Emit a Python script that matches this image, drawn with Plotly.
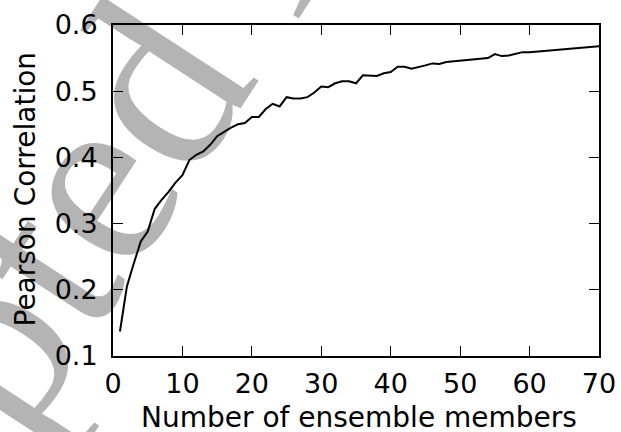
import math
import plotly.graph_objects as go

# ---- data ----
members = list(range(1, 71))
pearson = [0.137, 0.205, 0.240, 0.273, 0.288, 0.322, 0.336, 0.348, 0.362, 0.373,
           0.396, 0.404, 0.409, 0.419, 0.432, 0.439, 0.445, 0.450, 0.452, 0.461,
           0.461, 0.473, 0.481, 0.477, 0.491, 0.489, 0.489, 0.491, 0.498, 0.507,
           0.506, 0.512, 0.515, 0.515, 0.512, 0.524, 0.524, 0.523, 0.527, 0.529,
           0.537, 0.537, 0.534, 0.536, 0.539, 0.542, 0.541, 0.544, 0.545, 0.547,
           0.548, 0.549, 0.549, 0.550, 0.556, 0.553, 0.554, 0.557, 0.559, 0.559,
           0.560, 0.560, 0.562, 0.563, 0.563, 0.564, 0.565, 0.566, 0.567, 0.568]
x_ticks = [0, 10, 20, 30, 40, 50, 60, 70]
y_ticks = [0.1, 0.2, 0.3, 0.4, 0.5, 0.6]
y_tick_text = ["0.1", "0.2", "0.3", "0.4", "0.5", "0.6"]
x_title = "Number of ensemble members"
y_title = "Pearson Correlation"
watermark = "Accepted Manuscript"

W, H = 621, 432
ML, MR, MT, MB = 113, 22, 25, 76
PW, PH = W - ML - MR, H - MT - MB

def px_to_paper(px, py):
    return (px - ML) / PW, (H - MB - py) / PH

FONT = "DejaVu Sans"

fig = go.Figure()
fig.add_trace(go.Scatter(x=members, y=pearson, mode="lines",
                         line=dict(color="black", width=2), showlegend=False))

axis_common = dict(showline=True, linecolor="black", linewidth=2, mirror="allticks",
                   ticks="inside", ticklen=10, tickwidth=1.2, tickcolor="black",
                   showgrid=False, zeroline=False, automargin=False,
                   tickfont=dict(family=FONT, size=27, color="black"))

fig.update_xaxes(range=[0, 70], tickvals=x_ticks, ticklabelstandoff=3, **axis_common)
fig.update_yaxes(range=[0.1, 0.6], tickvals=y_ticks, ticktext=y_tick_text,
                 ticklabelstandoff=8, **axis_common)

# axis titles
tx, ty = px_to_paper(359, 436)
fig.add_annotation(text=x_title, x=tx, y=ty, xref="paper", yref="paper",
                   showarrow=False, xanchor="center", yanchor="bottom",
                   font=dict(family=FONT, size=28, color="black"))
tx, ty = px_to_paper(24.5, 189)
fig.add_annotation(text=y_title, x=tx, y=ty, xref="paper", yref="paper",
                   showarrow=False, xanchor="center", yanchor="middle", textangle=-90,
                   font=dict(family=FONT, size=28, color="black"))

# grey watermark behind the plot (label of an invisible line, below the data)
ang = math.radians(-57)
bx, by = math.cos(ang), math.sin(ang)
cx, cy = 236.0, -94.0
L = 100
x0, y0 = px_to_paper(cx - L * bx, cy - L * by)
x1, y1 = px_to_paper(cx + L * bx, cy + L * by)
fig.add_shape(type="line", xref="paper", yref="paper", x0=x0, y0=y0, x1=x1, y1=y1,
              layer="below", line=dict(color="rgba(0,0,0,0)", width=0),
              label=dict(text=watermark, textposition="middle", yanchor="middle",
                         font=dict(family="Liberation Serif", size=255, color="#b4b4b4")))

fig.update_layout(width=W, height=H, margin=dict(l=ML, r=MR, t=MT, b=MB),
                  paper_bgcolor="white", plot_bgcolor="rgba(0,0,0,0)")

fig.write_html("out.html")
